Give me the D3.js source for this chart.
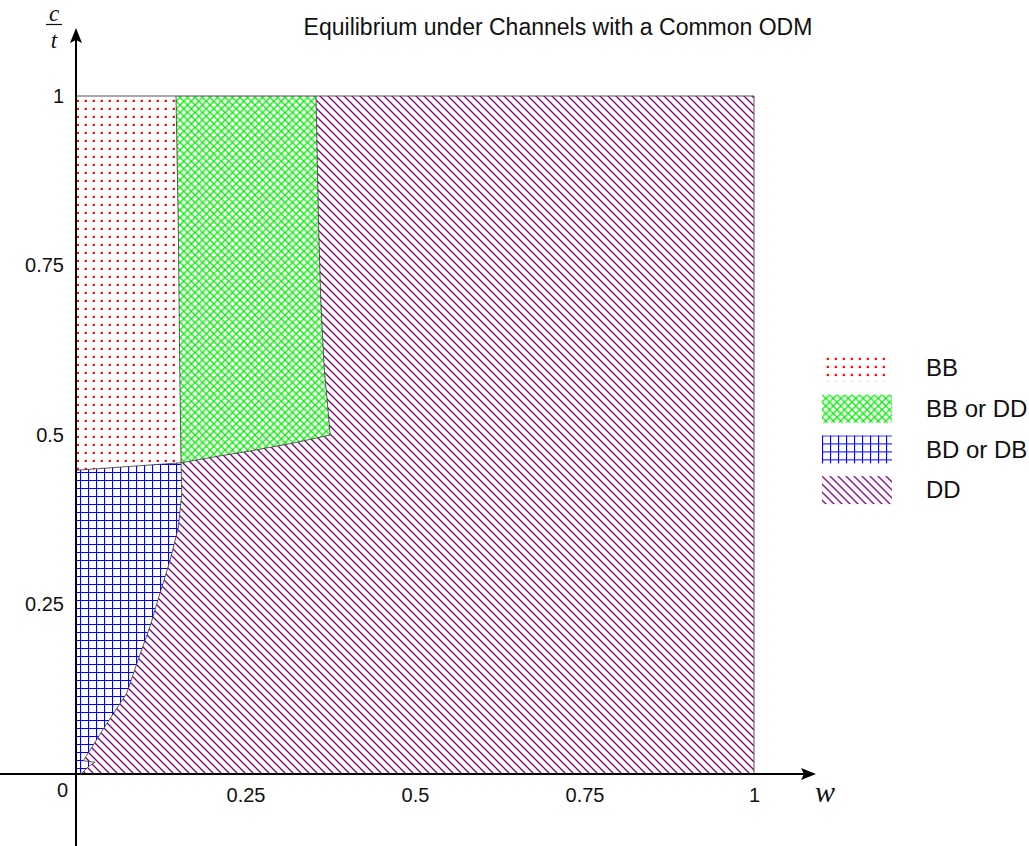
<!DOCTYPE html>
<html>
<head>
<meta charset="utf-8">
<script src="https://cdn.jsdelivr.net/npm/d3@7"></script>
<style>
  body { margin: 0; background: #fff; }
  svg { display: block; }
  .tick text { font-family: "Liberation Sans", Arial, sans-serif; font-size: 20px; fill: #111; }
  .title, .legend-label { font-family: "Liberation Sans", Arial, sans-serif; fill: #111; }
  .math { font-family: "Liberation Serif", serif; font-style: italic; fill: #111; }
</style>
</head>
<body>
<div id="chart"></div>
<script>
// tick values on both axes
const xTicks = [0.25, 0.5, 0.75, 1];
const yTicks = [0.25, 0.5, 0.75, 1];

// legend categories
const categories = ['BB', 'BB or DD', 'BD or DB', 'DD'];

// region boundaries, in (w, c/t) units
const junction = [0.155, 0.459];
const bbEdgeLeft = [0, 0.448];
const greenTop = [[0.1475, 1], [0.354, 1]];
const greenRight = [[0.354, 1], [0.356, 0.9], [0.358, 0.8], [0.361, 0.7], [0.366, 0.6], [0.375, 0.5]];
const greenBottom = [[0.375, 0.5], [0.32, 0.488], [0.26, 0.477], [0.2, 0.467], [0.155, 0.459]];
const greenLeft = [[0.155, 0.459], [0.153, 0.6], [0.151, 0.8], [0.1475, 1]];
const blueEdge = [[0.155, 0.459], [0.156, 0.414], [0.151, 0.364], [0.139, 0.316], [0.124, 0.267],
  [0.109, 0.217], [0.0914, 0.168], [0.0748, 0.119], [0.057, 0.092], [0.0394, 0.0649],
  [0.0108, 0.0196], [0.028, 0.0173], [0.0181, 0.0108], [0.0084, 0.001], [0, 0]];
const square = [[0, 0], [1, 0], [1, 1], [0, 1]];

class EquilibriumChart {

  constructor(_config) {
    this.config = {
      parentElement: _config.parentElement,
      containerWidth: 1029,
      containerHeight: 846,
      origin: {x: 76, y: 774},
      unit: 678
    };
    this.initVis();
  }

  initVis() {
    let vis = this;
    const c = vis.config;

    vis.svg = d3.select(c.parentElement).append('svg')
        .attr('width', c.containerWidth)
        .attr('height', c.containerHeight);

    vis.x = d3.scaleLinear().domain([0, 1]).range([c.origin.x, c.origin.x + c.unit]);
    vis.y = d3.scaleLinear().domain([0, 1]).range([c.origin.y, c.origin.y - c.unit]);

    vis.line = d3.line().x(d => vis.x(d[0])).y(d => vis.y(d[1]));

    vis.definePatterns();

    // polygons for every region
    const bb = [bbEdgeLeft, ...greenLeft, [0, 1]];
    const bbOrDd = [...greenTop, ...greenRight.slice(1), ...greenBottom.slice(1), ...greenLeft.slice(1)];
    const bd = [[0, 0], bbEdgeLeft, ...blueEdge];
    const dd = [[0, 0], [1, 0], [1, 1], ...greenRight, ...greenBottom.slice(1), ...blueEdge.slice(1)];

    vis.regions = [
      {name: 'DD', pts: dd, fill: 'url(#pat-dd)'},
      {name: 'BB', pts: bb, fill: 'url(#pat-bb)'},
      {name: 'BB or DD', pts: bbOrDd, fill: 'url(#pat-bbdd)'},
      {name: 'BD or DB', pts: bd, fill: 'url(#pat-bd)'}
    ];

    vis.svg.append('g').attr('class', 'regions')
      .selectAll('path')
      .data(vis.regions)
      .join('path')
        .attr('d', d => vis.line(d.pts) + 'Z')
        .attr('fill', d => d.fill)
        .attr('stroke', 'none');

    // boundary curves
    const edges = [[bbEdgeLeft, junction], greenRight, greenBottom, greenLeft, blueEdge];
    vis.svg.append('g').attr('class', 'edges')
      .selectAll('path')
      .data(edges)
      .join('path')
        .attr('d', vis.line)
        .attr('fill', 'none')
        .attr('stroke', '#333')
        .attr('stroke-width', 0.8);

    vis.svg.append('path')
        .attr('d', vis.line(square) + 'Z')
        .attr('fill', 'none')
        .attr('stroke', '#555')
        .attr('stroke-width', 1);

    vis.drawAxes();
    vis.drawLegend();

    vis.svg.append('text')
        .attr('class', 'title')
        .attr('x', 558)
        .attr('y', 35)
        .attr('text-anchor', 'middle')
        .style('font-size', '23px')
        .text('Equilibrium under Channels with a Common ODM');
  }

  definePatterns() {
    let vis = this;
    const defs = vis.svg.append('defs');

    const bb = defs.append('pattern').attr('id', 'pat-bb')
        .attr('patternUnits', 'userSpaceOnUse').attr('width', 8).attr('height', 8);
    bb.append('rect').attr('x', 4.7).attr('y', 3.8).attr('width', 2.2).attr('height', 2.2).attr('fill', '#ff0000');

    const bbdd = defs.append('pattern').attr('id', 'pat-bbdd')
        .attr('patternUnits', 'userSpaceOnUse').attr('width', 7.5).attr('height', 7.5);
    bbdd.append('path')
        .attr('d', 'M-1,-1L8.5,8.5M-1,8.5L8.5,-1')
        .attr('stroke', '#00ee00').attr('stroke-width', 1.3);

    const bd = defs.append('pattern').attr('id', 'pat-bd')
        .attr('patternUnits', 'userSpaceOnUse').attr('width', 8).attr('height', 8);
    bd.append('path')
        .attr('d', 'M0.5,0V8M0,0.5H8')
        .attr('stroke', '#0000ff').attr('stroke-width', 1.2);

    const dd = defs.append('pattern').attr('id', 'pat-dd')
        .attr('patternUnits', 'userSpaceOnUse').attr('width', 8).attr('height', 8);
    dd.append('path')
        .attr('d', 'M-1,-1L9,9M-1,7L1,9M7,-1L9,1')
        .attr('stroke', '#800080').attr('stroke-width', 1.3);
  }

  drawAxes() {
    let vis = this;
    const c = vis.config;

    const xAxis = d3.axisBottom(vis.x).tickValues(xTicks).tickSize(0).tickPadding(14)
        .tickFormat(d3.format('~g'));
    const yAxis = d3.axisLeft(vis.y).tickValues(yTicks).tickSize(0).tickPadding(12)
        .tickFormat(d3.format('~g'));

    vis.svg.append('g').attr('transform', `translate(0,${c.origin.y})`).call(xAxis)
        .call(g => g.select('.domain').remove());
    vis.svg.append('g').attr('transform', `translate(${c.origin.x},0)`).call(yAxis)
        .call(g => g.select('.domain').remove());

    vis.svg.append('text')
        .attr('x', 68).attr('y', 797)
        .attr('text-anchor', 'end')
        .style('font-family', '"Liberation Sans", Arial, sans-serif')
        .style('font-size', '20px')
        .attr('fill', '#111')
        .text('0');

    // axis lines with arrow heads
    vis.svg.append('line')
        .attr('x1', 0).attr('x2', 806).attr('y1', c.origin.y).attr('y2', c.origin.y)
        .attr('stroke', '#000').attr('stroke-width', 2);
    vis.svg.append('path')
        .attr('d', `M816,${c.origin.y}L801,${c.origin.y - 6}L804,${c.origin.y}L801,${c.origin.y + 6}Z`)
        .attr('fill', '#000');

    vis.svg.append('line')
        .attr('x1', c.origin.x).attr('x2', c.origin.x).attr('y1', 846).attr('y2', 38)
        .attr('stroke', '#000').attr('stroke-width', 2);
    vis.svg.append('path')
        .attr('d', `M${c.origin.x},28L${c.origin.x - 6},43L${c.origin.x},40L${c.origin.x + 6},43Z`)
        .attr('fill', '#000');

    vis.svg.append('text').attr('class', 'math')
        .attr('x', 825).attr('y', 802).attr('text-anchor', 'middle')
        .style('font-size', '30px').text('w');

    // the c/t fraction on the vertical axis
    vis.svg.append('text').attr('class', 'math')
        .attr('x', 54).attr('y', 21).attr('text-anchor', 'middle')
        .style('font-size', '23px').text('c');
    vis.svg.append('line')
        .attr('x1', 46).attr('x2', 62).attr('y1', 24.5).attr('y2', 24.5)
        .attr('stroke', '#111').attr('stroke-width', 1.2);
    vis.svg.append('text').attr('class', 'math')
        .attr('x', 54).attr('y', 48).attr('text-anchor', 'middle')
        .style('font-size', '23px').text('t');
  }

  drawLegend() {
    let vis = this;
    const fills = {'BB': 'url(#pat-bb)', 'BB or DD': 'url(#pat-bbdd)', 'BD or DB': 'url(#pat-bd)', 'DD': 'url(#pat-dd)'};

    const legend = vis.svg.append('g').attr('class', 'legend')
      .selectAll('g')
      .data(categories)
      .join('g')
        .attr('transform', (d, i) => `translate(822,${354 + i * 40.7})`);

    legend.append('rect')
        .attr('width', d => d === 'BB' ? 67 : 70)
        .attr('height', 28)
        .attr('fill', d => fills[d]);

    legend.append('text')
        .attr('class', 'legend-label')
        .attr('x', 104)
        .attr('y', 14)
        .attr('dy', '0.35em')
        .style('font-size', '24px')
        .text(d => d);
  }
}

new EquilibriumChart({parentElement: '#chart'});
</script>
</body>
</html>
